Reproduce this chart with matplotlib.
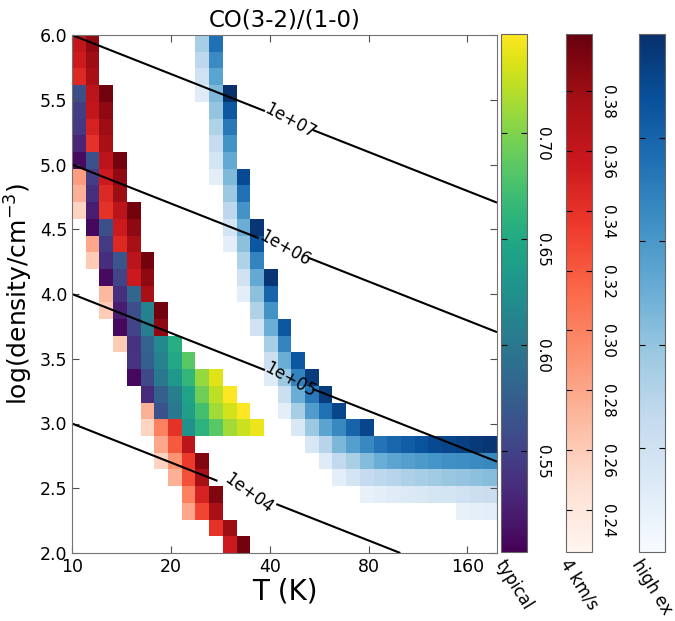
import numpy as np
import matplotlib
matplotlib.use('Agg')
import matplotlib.pyplot as plt
from matplotlib.ticker import NullLocator, FixedLocator, FixedFormatter

# cell grid: 31 x 31, log-spaced temperature, log(density) from 2 to 6
t_min, t_max = 10., 197.
n_cells = 31
temp_edges = np.logspace(np.log10(t_min), np.log10(t_max), n_cells + 1)
dens_edges = np.linspace(2., 6., n_cells + 1)

nan = np.nan
# each entry: (row counted from the top, first column, CO(3-2)/(1-0) values)
typical_rows = [
    (3, 0, [0.561]),
    (4, 0, [0.546]),
    (5, 0, [0.541]),
    (6, 0, [0.527]),
    (7, 0, [0.509, 0.563]),
    (8, 1, [0.546]),
    (9, 1, [0.536]),
    (10, 1, [0.522]),
    (11, 1, [0.507, 0.561]),
    (12, 2, [0.544]),
    (13, 2, [0.534, 0.566]),
    (14, 2, [0.509, 0.551]),
    (15, 3, [0.536, 0.583]),
    (16, 3, [0.522, 0.561, 0.612]),
    (17, 3, [0.507, 0.551, 0.605]),
    (18, 4, [0.537, 0.580, 0.617, 0.656]),
    (19, 4, [0.539, 0.576, 0.610, 0.649, 0.683]),
    (20, 4, [0.507, 0.556, 0.600, 0.632, 0.664, 0.708, 0.735]),
    (21, 5, [0.531, 0.576, 0.607, 0.644, 0.693, 0.723, 0.747]),
    (22, 6, [0.563, 0.600, 0.639, 0.674, 0.713, 0.730, 0.747]),
    (23, 8, [0.625, 0.659, 0.683, 0.713, 0.727, 0.740]),
]

kms4_rows = [
    (0, 0, [0.360, 0.385]),
    (1, 0, [0.355, 0.380]),
    (2, 0, [0.345, 0.375]),
    (3, 1, [0.365, 0.395]),
    (4, 1, [0.360, 0.385]),
    (5, 1, [0.350, 0.380]),
    (6, 1, [0.340, 0.375]),
    (7, 2, [0.365, 0.395]),
    (8, 0, [0.285, nan, 0.355, 0.385]),
    (9, 0, [0.275, nan, 0.345, 0.380]),
    (10, 0, [0.255, nan, 0.340, 0.365, 0.395]),
    (11, 3, [0.355, 0.385]),
    (12, 1, [0.280, nan, 0.345, 0.375]),
    (13, 1, [0.260, nan, nan, 0.365, 0.395]),
    (14, 4, [0.355, 0.385]),
    (15, 2, [0.270, nan, nan, 0.375]),
    (16, 2, [0.260, nan, nan, nan, 0.395]),
    (17, 6, [0.385]),
    (18, 3, [0.260]),
    (22, 5, [0.275]),
    (23, 5, [0.255, 0.300, 0.340]),
    (24, 6, [0.280, 0.320, 0.365]),
    (25, 6, [0.255, 0.290, 0.335, 0.390]),
    (26, 7, [0.275, 0.325, 0.375]),
    (27, 8, [0.300, 0.350, 0.390]),
    (28, 8, [0.280, 0.330, 0.375]),
    (29, 10, [0.340, 0.380]),
    (30, 11, [0.355, 0.395]),
]

highex_rows = [
    (0, 9, [0.35, 0.75]),
    (1, 9, [0.28, 0.65]),
    (2, 9, [0.20, 0.55]),
    (3, 9, [0.12, 0.45, 1.00]),
    (4, 10, [0.40, 0.85]),
    (5, 10, [0.32, 0.72]),
    (6, 10, [0.25, 0.62]),
    (7, 10, [0.18, 0.52]),
    (8, 10, [0.10, 0.45, 0.90]),
    (9, 11, [0.38, 0.75]),
    (10, 11, [0.28, 0.62]),
    (11, 11, [0.18, 0.50, 0.98]),
    (12, 11, [0.10, 0.42, 0.85]),
    (13, 12, [0.32, 0.68]),
    (14, 12, [0.20, 0.52, 0.98]),
    (15, 12, [0.10, 0.42, 0.80]),
    (16, 13, [0.32, 0.62]),
    (17, 13, [0.20, 0.50, 0.85]),
    (18, 14, [0.35, 0.68]),
    (19, 14, [0.22, 0.50, 0.85]),
    (20, 14, [0.12, 0.38, 0.68, 0.95]),
    (21, 15, [0.22, 0.50, 0.72, 0.95]),
    (22, 15, [0.10, 0.35, 0.58, 0.75, 0.92]),
    (23, 16, [0.15, 0.38, 0.55, 0.66, 0.80, 0.92]),
    (24, 17, [0.16, 0.30, 0.46, 0.57, 0.66, 0.74, 0.79, 0.83, 0.87, 0.90,
              0.92, 0.94, 0.96, 0.98]),
    (25, 18, [0.12, 0.26, 0.34, 0.44, 0.50, 0.54, 0.57, 0.59, 0.61, 0.63,
              0.64, 0.65, 0.66]),
    (26, 19, [0.10, 0.18, 0.25, 0.28, 0.30, 0.33, 0.35, 0.37, 0.39, 0.40,
              0.42, 0.43]),
    (27, 21, [0.08, 0.10, 0.12, 0.14, 0.15, 0.17, 0.18, 0.20, 0.22, 0.23]),
    (28, 28, [0.08, 0.09, 0.10]),
]

pressure_levels = [1e4, 1e5, 1e6, 1e7]
label_spots = [(33.3, 2.43), (46.4, 3.34), (45.4, 4.38), (46.4, 5.34)]


def to_grid(rows):
    grid = np.full((n_cells, n_cells), np.nan)
    for r, c0, vals in rows:
        grid[n_cells - 1 - r, c0:c0 + len(vals)] = vals
    return np.ma.masked_invalid(grid)


W, H = 675., 621.
fig = plt.figure(figsize=(W / 100, H / 100), dpi=100)
ax = fig.add_axes([72 / W, 68 / H, 425 / W, 518 / H])

m_typ = ax.pcolormesh(temp_edges, dens_edges, to_grid(typical_rows),
                      cmap='viridis', vmin=0.502, vmax=0.747)
m_red = ax.pcolormesh(temp_edges, dens_edges, to_grid(kms4_rows),
                      cmap='Reds', vmin=0.226, vmax=0.399)
m_blu = ax.pcolormesh(temp_edges, dens_edges, to_grid(highex_rows),
                      cmap='Blues', vmin=0., vmax=1.)

# lines of constant pressure n*T
tt = np.logspace(np.log10(t_min), np.log10(t_max), 300)
nn = np.linspace(2., 6., 300)
TT, NN = np.meshgrid(tt, nn)
cs = ax.contour(TT, NN, TT * 10 ** NN, levels=pressure_levels,
                colors='k', linewidths=1.5)
ax.clabel(cs, fmt='%.0e', fontsize=12, manual=label_spots, inline=True,
          inline_spacing=-8)

ax.set_xscale('log')
ax.set_xlim(t_min, t_max)
ax.set_ylim(2, 6)
ax.xaxis.set_major_locator(FixedLocator([10, 20, 40, 80, 160]))
ax.xaxis.set_major_formatter(FixedFormatter(['10', '20', '40', '80', '160']))
ax.xaxis.set_minor_locator(NullLocator())
ax.set_yticks(np.arange(2.0, 6.01, 0.5))
ax.tick_params(direction='in', top=True, right=True, labelsize=12.5,
               length=5, color='0.3')
for sp in ax.spines.values():
    sp.set_color('0.45')

ax.set_title('CO(3-2)/(1-0)', fontsize=16.5)
ax.set_xlabel('T (K)', fontsize=20, labelpad=1)
ax.set_ylabel('log(density/cm$^{-3}$)', fontsize=18, labelpad=3)

cbar_specs = [
    (m_typ, 501, [0.55, 0.60, 0.65, 0.70], 'typical'),
    (m_red, 566, [0.24, 0.26, 0.28, 0.30, 0.32, 0.34, 0.36, 0.38], '4 km/s'),
    (m_blu, 639, [0.2, 0.4, 0.6, 0.8], 'high ex'),
]
for mesh, x0, ticks, name in cbar_specs:
    cax = fig.add_axes([x0 / W, 69 / H, 26 / W, 518 / H])
    cb = fig.colorbar(mesh, cax=cax, ticks=ticks, format='%.2f')
    cb.ax.tick_params(direction='in', left=True, right=True, length=4,
                      labelsize=11, pad=6, labelrotation=-90)
    cb.outline.set_edgecolor('0.4')
    cb.ax.set_xlabel(name, rotation=-58, fontsize=12, labelpad=3)

plt.savefig('out.png', dpi=100)
